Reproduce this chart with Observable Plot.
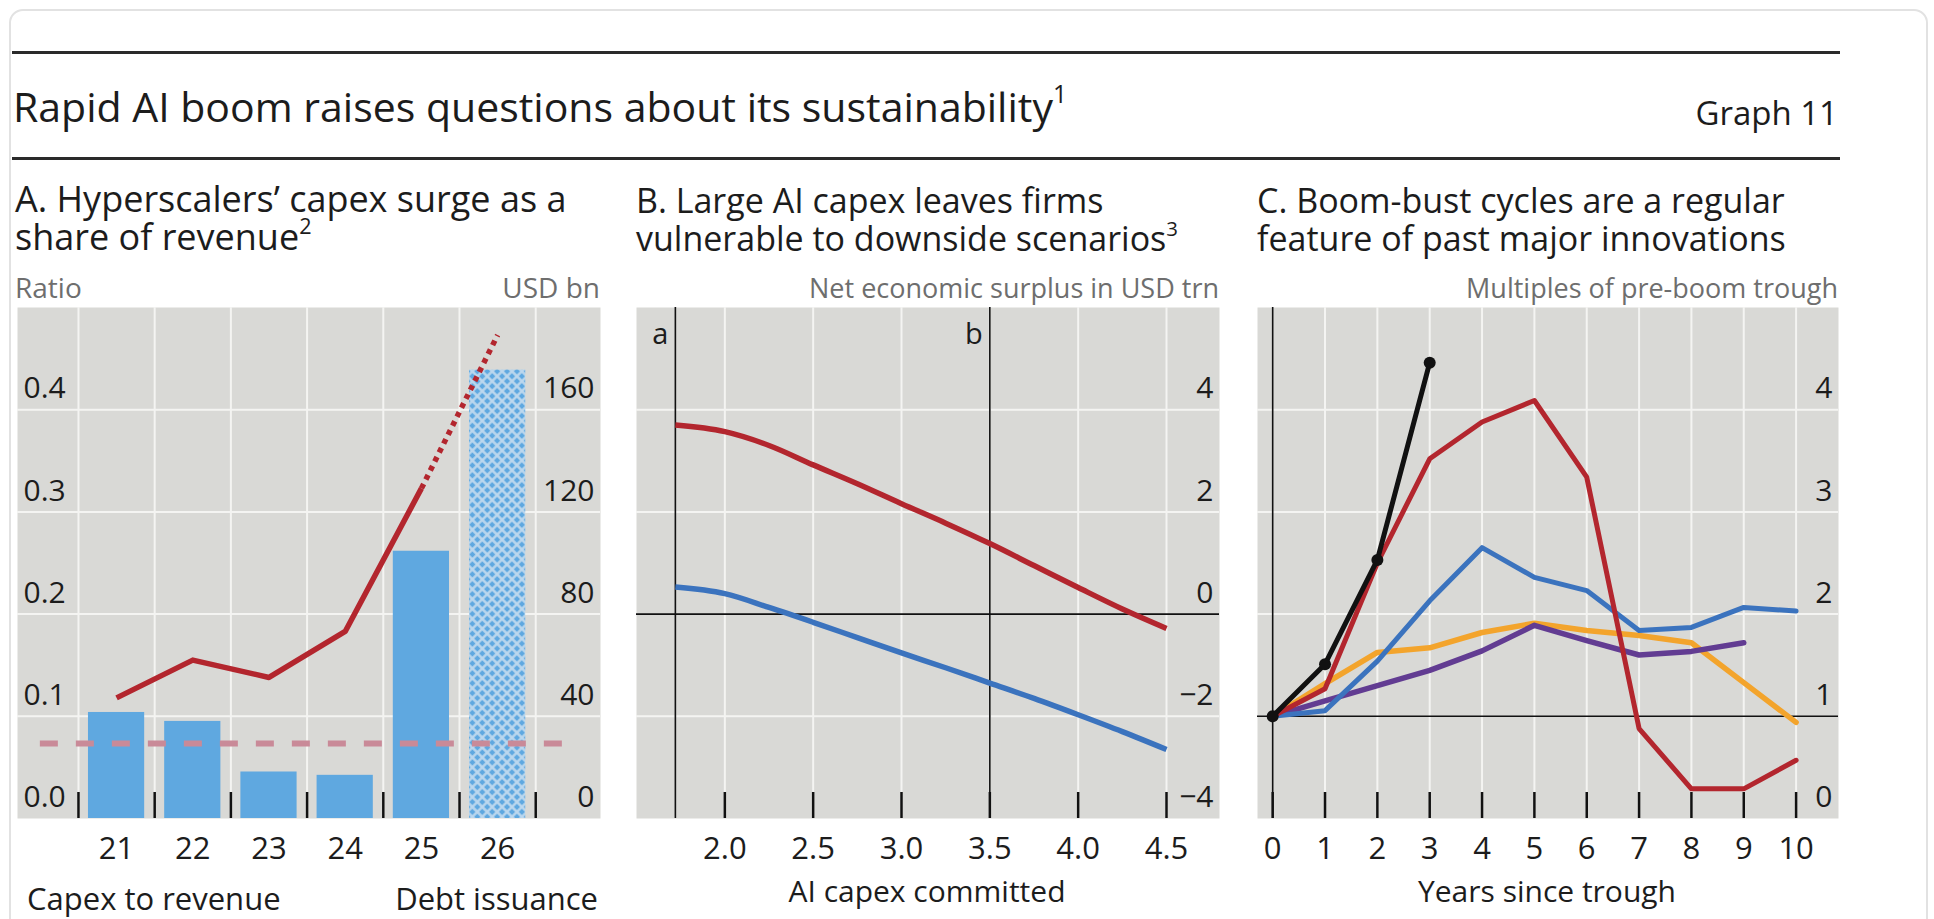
<!DOCTYPE html>
<html>
<head>
<meta charset="utf-8">
<script src="https://cdn.jsdelivr.net/npm/d3@7"></script>
<script src="https://cdn.jsdelivr.net/npm/@observablehq/plot@0.6"></script>
<style>
  html, body { margin: 0; padding: 0; background: #fff; }
  body { width: 1934px; height: 919px; overflow: hidden; position: relative; font-family: "Open Sans", sans-serif; color: #1c1c1c; }
  #card { position: absolute; left: 9px; top: 9px; width: 1919px; height: 960px; border: 2px solid #e2e2e2; border-radius: 14px; box-sizing: border-box; }
  .rule { position: absolute; left: 12px; width: 1828px; height: 3px; background: #2a2a2a; }
  .t { position: absolute; white-space: nowrap; font-family: "Open Sans", sans-serif; }
  .t sup { font-size: 0.6em; position: relative; top: -0.75em; vertical-align: baseline; line-height: 0; }
  .panel { position: absolute; top: 307px; }
</style>
</head>
<body>
<div id="card"></div>
<div class="rule" style="top:51px"></div>
<div class="rule" style="top:157px"></div>
<script>
// ---------------- Data ----------------
// Panel A: hyperscalers
const yearsA = [21, 22, 23, 24, 25, 26];
const ratioYears = [21, 22, 23, 24, 25];
const capexToRevenue = [0.118, 0.155, 0.138, 0.183, 0.323];
const projYears = [25, 26];
const capexProjection = [0.323, 0.473];
const debtIssuance = [41.5, 38, 18.2, 16.9, 104.6, 175.5]; // USD bn
const projectedYear = 26;
const avgCapexRatio = 0.0735;
const avgSpan = [20, 26.9];
const ratioTicks = [0, 0.1, 0.2, 0.3, 0.4];
const usdTicks = [0, 40, 80, 120, 160];
const usdPerRatio = 400;
const bandEdgesA = [20.5, 21.5, 22.5, 23.5, 24.5, 25.5, 26.5];

// Panel B: net economic surplus
const capexCommitted = [1.72, 2.0, 2.25, 2.5, 2.75, 3.0, 3.25, 3.5, 3.75, 4.0, 4.25, 4.5];
const surplusRed = [3.70, 3.57, 3.30, 2.92, 2.55, 2.16, 1.78, 1.38, 0.95, 0.52, 0.10, -0.28];
const surplusBlue = [0.53, 0.40, 0.13, -0.16, -0.46, -0.76, -1.05, -1.35, -1.65, -1.97, -2.30, -2.65];
const scenarioX = [1.72, 3.5];
const scenarioLabels = ["a", "b"];
const bTicksX = [2.0, 2.5, 3.0, 3.5, 4.0, 4.5];
const bTicksY = [-4, -2, 0, 2, 4];

// Panel C: boom-bust cycles
const yearsC = [0, 1, 2, 3, 4, 5, 6, 7, 8, 9, 10];
const cBlack = [1, 1.51, 2.53, 4.46];
const cRed = [1, 1.27, 2.5, 3.52, 3.88, 4.09, 3.34, 0.88, 0.29, 0.29, 0.57];
const cBlue = [1, 1.055, 1.54, 2.13, 2.65, 2.36, 2.23, 1.84, 1.87, 2.065, 2.03];
const cOrange = [1, 1.32, 1.625, 1.67, 1.82, 1.91, 1.84, 1.79, 1.72, 1.33, 0.94];
const cPurple = [1, 1.15, 1.30, 1.45, 1.64, 1.89, 1.74, 1.60, 1.635, 1.72];
const cTicksY = [0, 1, 2, 3, 4];

// ---------------- Styles ----------------
const BG = "#d9d9d6";
const GRID = "#f4f4f2";
const RED = "#b3262e";
const BARBLUE = "#5fa8e0";
const LBLUE = "#3b73be";
const ORANGE = "#f3a42c";
const PURPLE = "#623c92";
const PINK = "#c98a98";
const PW = 583, PH = 511, MB = 70;
const YFS = 30, XFS = 31;
const plotStyle = { fontFamily: '"Open Sans", sans-serif', fontSize: "28px", color: "#1c1c1c", background: "none", overflow: "visible" };

// place text so that its first baseline sits at `base`
function place(html, x, base, fs, anchor = "start", color = "#1c1c1c", lh = null) {
  const L = lh || fs;
  const d = document.createElement("div");
  d.className = "t";
  d.innerHTML = html;
  d.style.fontSize = fs + "px";
  d.style.lineHeight = L + "px";
  d.style.top = (base - ((L - 1.362 * fs) / 2 + 1.069 * fs)) + "px";
  d.style.color = color;
  if (anchor === "start") d.style.left = x + "px";
  else if (anchor === "end") { d.style.right = (1934 - x) + "px"; d.style.textAlign = "right"; }
  else { d.style.left = x + "px"; d.style.transform = "translateX(-50%)"; d.style.textAlign = "center"; }
  document.body.appendChild(d);
}
function mount(svg, left) {
  const d = document.createElement("div");
  d.className = "panel";
  d.style.left = left + "px";
  d.appendChild(svg);
  document.body.appendChild(d);
}
const fmtMinus = d => d < 0 ? "\u2212" + Math.abs(d) : String(d);

// ---------------- Panel A ----------------
const barsA = yearsA.map((y, i) => ({ year: y, debt: debtIssuance[i] }));
const lineA = ratioYears.map((y, i) => ({ year: y, ratio: capexToRevenue[i] }));
const projA = projYears.map((y, i) => ({ year: y, ratio: capexProjection[i] }));

const svgA = Plot.plot({
  width: PW, height: PH + MB, marginLeft: 0, marginRight: 0, marginTop: 0, marginBottom: MB,
  x: { domain: [19.7, 27.35] },
  y: { domain: [0, 0.5] },
  style: plotStyle,
  marks: [
    Plot.frame({ fill: BG, stroke: "none" }),
    Plot.ruleX(bandEdgesA, { stroke: GRID, strokeWidth: 2 }),
    Plot.ruleY(ratioTicks.filter(d => d > 0), { stroke: GRID, strokeWidth: 2 }),
    Plot.rect(barsA.filter(d => d.year !== projectedYear), { x1: d => d.year - 0.5, x2: d => d.year + 0.5, y1: 0, y2: d => d.debt / usdPerRatio, insetLeft: 10, insetRight: 10, fill: BARBLUE }),
    Plot.rect(barsA.filter(d => d.year === projectedYear), { x1: d => d.year - 0.5, x2: d => d.year + 0.5, y1: 0, y2: d => d.debt / usdPerRatio, insetLeft: 10, insetRight: 10, fill: "url(#hatchA)" }),
    Plot.ruleY([avgCapexRatio], { x1: avgSpan[0], x2: avgSpan[1], stroke: PINK, strokeWidth: 6, strokeDasharray: "18,18" }),
    Plot.line(lineA, { x: "year", y: "ratio", stroke: RED, strokeWidth: 5.5, strokeLinecap: "butt" }),
    Plot.line(projA, { x: "year", y: "ratio", stroke: RED, strokeWidth: 5.5, strokeDasharray: "5,5", strokeLinecap: "butt" }),
    Plot.ruleX(bandEdgesA, { y1: 0, y2: 0, insetBottom: 26, stroke: "#111", strokeWidth: 2.5 }),
    Plot.axisY(ratioTicks, { anchor: "left", tickSize: 0, tickPadding: 0, dx: 6, dy: -21, textAnchor: "start", tickFormat: d3.format(".1f"), fontSize: YFS, label: null }),
    Plot.axisY(usdTicks.map(v => v / usdPerRatio), { anchor: "right", tickSize: 0, tickPadding: 0, dx: -6, dy: -21, textAnchor: "end", tickFormat: d => String(Math.round(d * usdPerRatio)), fontSize: YFS, label: null }),
    Plot.axisX(yearsA, { tickSize: 0, tickPadding: 18, fontSize: XFS, label: null, tickFormat: d => String(d) })
  ]
});
{
  const defs = d3.select(svgA).insert("defs", ":first-child");
  const pat = defs.append("pattern").attr("id", "hatchA").attr("patternUnits", "userSpaceOnUse")
    .attr("width", 7).attr("height", 7).attr("patternTransform", "rotate(45)");
  pat.append("rect").attr("width", 7).attr("height", 7).attr("fill", BARBLUE);
  pat.append("path").attr("d", "M0,3.5H7M3.5,0V7").attr("stroke", "#bdd8ee").attr("stroke-width", 2.4);
}
mount(svgA, 17);

// ---------------- Panel B ----------------
const redB = capexCommitted.map((x, i) => ({ x, y: surplusRed[i] }));
const blueB = capexCommitted.map((x, i) => ({ x, y: surplusBlue[i] }));
const scen = scenarioX.map((x, i) => ({ x, label: scenarioLabels[i] }));
const svgB = Plot.plot({
  width: PW, height: PH + MB, marginLeft: 0, marginRight: 0, marginTop: 0, marginBottom: MB,
  x: { domain: [1.5, 4.8] },
  y: { domain: [-4, 6] },
  style: plotStyle,
  marks: [
    Plot.frame({ fill: BG, stroke: "none" }),
    Plot.ruleX(bTicksX, { stroke: GRID, strokeWidth: 2 }),
    Plot.ruleY(bTicksY.filter(d => d !== 0 && d !== -4), { stroke: GRID, strokeWidth: 2 }),
    Plot.ruleY([0], { stroke: "#111", strokeWidth: 1.6 }),
    Plot.ruleX(scen, { x: "x", stroke: "#111", strokeWidth: 1.6 }),
    Plot.line(redB, { x: "x", y: "y", stroke: RED, strokeWidth: 5.5, curve: "monotone-x", strokeLinecap: "butt" }),
    Plot.line(blueB, { x: "x", y: "y", stroke: LBLUE, strokeWidth: 5.5, curve: "monotone-x", strokeLinecap: "butt" }),
    Plot.ruleX(bTicksX, { y1: -4, y2: -4, insetBottom: 26, stroke: "#111", strokeWidth: 2.5 }),
    Plot.text(scen, { x: "x", text: "label", frameAnchor: "top", lineAnchor: "middle", textAnchor: "end", dx: -7, dy: 27, fontSize: 29 }),
    Plot.axisY(bTicksY, { anchor: "right", tickSize: 0, tickPadding: 0, dx: -6, dy: -21, textAnchor: "end", tickFormat: fmtMinus, fontSize: YFS, label: null }),
    Plot.axisX(bTicksX, { tickSize: 0, tickPadding: 18, fontSize: XFS, label: null, tickFormat: d3.format(".1f") })
  ]
});
mount(svgB, 636);

// ---------------- Panel C ----------------
const toSeries = (name, vals) => vals.map((v, i) => ({ name, year: yearsC[i], v }));
const sOrange = toSeries("orange", cOrange);
const sPurple = toSeries("purple", cPurple);
const sBlue = toSeries("blue", cBlue);
const sRed = toSeries("red", cRed);
const sBlack = toSeries("black", cBlack);
const svgC = Plot.plot({
  width: PW - 2, height: PH + MB, marginLeft: 0, marginRight: 0, marginTop: 0, marginBottom: MB,
  x: { domain: [-0.29, 10.81] },
  y: { domain: [0, 5] },
  style: plotStyle,
  marks: [
    Plot.frame({ fill: BG, stroke: "none" }),
    Plot.ruleX(yearsC.filter(d => d > 0), { stroke: GRID, strokeWidth: 2 }),
    Plot.ruleY(cTicksY.filter(d => d > 1), { stroke: GRID, strokeWidth: 2 }),
    Plot.ruleY([1], { stroke: "#111", strokeWidth: 1.6 }),
    Plot.ruleX([0], { stroke: "#111", strokeWidth: 1.6 }),
    Plot.line(sOrange, { x: "year", y: "v", stroke: ORANGE, strokeWidth: 5.5 }),
    Plot.line(sPurple, { x: "year", y: "v", stroke: PURPLE, strokeWidth: 5.5 }),
    Plot.line(sBlue, { x: "year", y: "v", stroke: LBLUE, strokeWidth: 5 }),
    Plot.line(sRed, { x: "year", y: "v", stroke: RED, strokeWidth: 5 }),
    Plot.line(sBlack, { x: "year", y: "v", stroke: "#111", strokeWidth: 5 }),
    Plot.dot(sBlack, { x: "year", y: "v", r: 6, fill: "#111" }),
    Plot.ruleX(yearsC, { y1: 0, y2: 0, insetBottom: 26, stroke: "#111", strokeWidth: 2.5 }),
    Plot.axisY(cTicksY, { anchor: "right", tickSize: 0, tickPadding: 0, dx: -6, dy: -21, textAnchor: "end", fontSize: YFS, label: null, tickFormat: d => String(d) }),
    Plot.axisX(yearsC, { tickSize: 0, tickPadding: 18, fontSize: XFS, label: null, tickFormat: d => String(d) })
  ]
});
mount(svgC, 1257);

// ---------------- Text ----------------
place("Rapid AI boom raises questions about its sustainability<sup>1</sup>", 13, 122, 41);
place("Graph 11", 1838, 125, 33, "end");

place("A. Hyperscalers\u2019 capex surge as a<br>share of revenue<sup>2</sup>", 15, 213, 36, "start", "#1c1c1c", 38);
place("B. Large AI capex leaves firms<br>vulnerable to downside scenarios<sup>3</sup>", 636, 213, 34, "start", "#1c1c1c", 38);
place("C. Boom-bust cycles are a regular<br>feature of past major innovations", 1257, 213, 34, "start", "#1c1c1c", 38);

place("Ratio", 15, 298, 28, "start", "#6e6e6e");
place("USD bn", 600, 298, 28, "end", "#6e6e6e");
place("Net economic surplus in USD trn", 1219, 298, 27, "end", "#6e6e6e");
place("Multiples of pre-boom trough", 1838, 298, 27, "end", "#6e6e6e");

place("AI capex committed", 927, 903, 30, "middle");
place("Years since trough", 1547, 903, 30, "middle");
place("Capex to revenue", 27, 911, 31);
place("Debt issuance", 598, 911, 31, "end");
</script>
</body>
</html>
